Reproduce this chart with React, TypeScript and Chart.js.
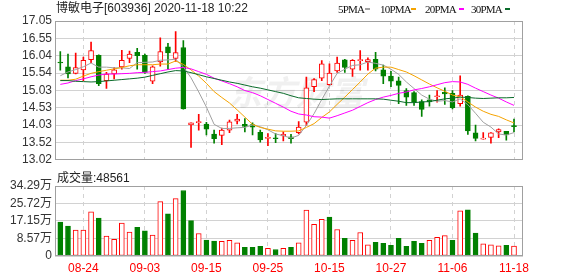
import React, { useEffect, useRef } from 'react';
import { Chart, registerables } from 'chart.js';

Chart.register(...registerables);

const stockTitle = '博敏电子[603936] 2020-11-18 10:22';
const volumeTitle = '成交量:48561';
const watermarkText = '东方财富';

const dates = ['08-19','08-20','08-21','08-24','08-25','08-26','08-27','08-28','08-31','09-01','09-02','09-03','09-04','09-07','09-08','09-09','09-10','09-11','09-14','09-15','09-16','09-17','09-18','09-21','09-22','09-23','09-24','09-25','09-28','09-29','09-30','10-09','10-12','10-13','10-14','10-15','10-16','10-19','10-20','10-21','10-22','10-23','10-26','10-27','10-28','10-29','10-30','11-02','11-03','11-04','11-05','11-06','11-09','11-10','11-11','11-12','11-13','11-16','11-17','11-18'];

const opens = [15.85,15.72,15.53,15.63,15.93,16.05,15.32,15.51,15.72,15.96,16.14,16.05,15.30,15.86,16.30,15.96,16.28,14.04,14.10,14.06,13.77,13.73,13.88,14.14,14.05,14.04,13.82,13.64,13.64,13.71,13.69,13.81,14.11,15.14,15.39,15.20,15.60,15.92,15.65,15.90,15.87,15.94,15.63,15.45,15.31,15.03,14.97,14.71,14.76,14.85,14.98,14.95,14.65,14.86,13.80,13.62,13.67,13.83,13.85,14.01];
const highs = [16.16,16.09,16.12,16.00,16.44,16.07,15.56,15.70,16.20,16.18,16.26,16.09,15.75,16.56,16.40,16.74,16.48,14.09,14.34,14.11,13.88,13.94,14.17,14.34,14.22,14.09,13.88,13.78,13.78,13.83,13.76,14.13,15.42,15.38,15.90,15.81,16.00,15.94,15.93,16.19,15.98,16.14,15.77,15.59,15.42,15.09,15.00,14.76,14.90,15.03,15.11,15.03,15.46,14.88,14.03,13.81,13.81,13.92,13.85,14.20];
const lows = [15.62,15.40,15.51,15.32,15.84,15.17,15.09,15.37,15.65,15.84,15.65,15.53,15.23,15.74,15.65,15.88,14.49,13.38,13.88,13.74,13.50,13.46,13.81,14.06,13.83,13.74,13.53,13.43,13.52,13.57,13.50,13.77,14.02,15.00,15.32,15.18,15.56,15.56,15.44,15.62,15.62,15.60,15.23,15.14,14.65,14.60,14.60,14.28,14.58,14.69,14.63,14.50,14.58,13.76,13.57,13.62,13.50,13.66,13.59,13.83];
const closes = [15.83,15.51,15.70,15.91,16.19,15.23,15.51,15.63,15.91,16.09,16.04,15.56,15.72,16.16,16.12,16.13,14.50,14.09,14.12,13.91,13.63,13.88,14.12,14.20,13.99,13.97,13.60,13.65,13.63,13.76,13.63,13.97,15.11,15.35,15.81,15.54,15.83,15.70,15.91,15.92,15.93,15.65,15.45,15.30,15.18,14.84,14.69,14.48,14.70,14.88,14.93,14.53,14.90,13.86,13.64,13.65,13.80,13.90,13.74,13.98];
const prevClose = 15.95;

const ma5 = [15.46,15.57,15.64,15.72,15.83,15.71,15.71,15.69,15.69,15.67,15.84,15.85,15.86,15.91,15.92,15.94,15.72,15.40,14.99,14.55,14.05,13.93,13.93,13.95,13.96,14.03,13.98,13.89,13.77,13.72,13.65,13.73,14.02,14.36,14.77,15.16,15.53,15.65,15.76,15.78,15.86,15.82,15.77,15.65,15.50,15.28,15.09,14.90,14.78,14.72,14.74,14.70,14.79,14.62,14.37,14.11,13.97,13.77,13.74,13.81];
const ma10 = [15.33,15.33,15.36,15.45,15.53,15.58,15.62,15.66,15.70,15.75,15.78,15.78,15.78,15.80,15.80,15.89,15.79,15.63,15.45,15.24,15.00,14.83,14.67,14.47,14.26,14.05,13.96,13.91,13.86,13.85,13.85,13.86,13.96,14.07,14.25,14.41,14.63,14.84,15.06,15.28,15.51,15.68,15.71,15.71,15.64,15.57,15.46,15.34,15.22,15.11,15.01,14.90,14.85,14.70,14.55,14.43,14.34,14.28,14.18,14.09];
const ma20 = [15.21,15.25,15.32,15.37,15.43,15.48,15.51,15.51,15.52,15.53,15.55,15.56,15.58,15.60,15.64,15.68,15.70,15.66,15.58,15.50,15.39,15.31,15.23,15.14,15.03,14.97,14.88,14.77,14.66,14.55,14.43,14.35,14.32,14.27,14.26,14.23,14.30,14.38,14.46,14.57,14.68,14.77,14.84,14.89,14.95,14.99,15.05,15.09,15.14,15.20,15.26,15.29,15.28,15.21,15.10,15.00,14.90,14.81,14.70,14.60];
const ma30 = [15.32,15.32,15.30,15.29,15.28,15.29,15.31,15.33,15.35,15.37,15.39,15.42,15.47,15.52,15.57,15.61,15.60,15.55,15.49,15.43,15.38,15.33,15.28,15.24,15.19,15.14,15.10,15.05,15.00,14.95,14.88,14.82,14.80,14.78,14.77,14.78,14.79,14.79,14.79,14.79,14.79,14.79,14.78,14.75,14.72,14.68,14.68,14.70,14.71,14.75,14.79,14.81,14.84,14.83,14.81,14.80,14.81,14.82,14.82,14.83];

// volume in 万
const volumes = [16.6,14.6,12.7,12.7,21.6,18.6,9.7,8.2,16.1,11.7,14.1,12.3,10.2,26.6,20.6,28.1,32.1,17.3,11.0,7.8,7.3,7.2,7.7,6.5,4.2,4.2,4.7,3.7,3.2,3.7,4.2,6.5,22.5,15.5,18.0,19.1,13.0,8.7,7.7,11.5,5.5,6.7,6.2,5.2,8.7,4.7,7.2,6.2,7.7,9.2,10.0,7.7,22.1,22.6,11.2,6.0,5.5,5.0,5.2,4.8561];

const xTickLabels = ['08-24','09-03','09-15','09-25','10-15','10-27','11-06','11-18'];
const priceTicks = [13.02, 13.52, 14.03, 14.53, 15.03, 15.54, 16.04, 16.55, 17.05];
const volTickValues = [0, 8.57, 17.15, 25.72, 34.29];
const volTickLabels = ['0', '8.57万', '17.15万', '25.72万', '34.29万'];
const maNames = ['5PMA', '10PMA', '20PMA', '30PMA'];

const UP = '#ff0000';
const DOWN = '#008000';
const MA_COLORS = ['#a0a0a0', '#f5a300', '#ff00ff', '#0a6b2a'];
const GRID = '#d2d2d2';
const FRAME = '#a0a0a0';
const FONT = '"Liberation Sans", Arial, "Noto Sans CJK SC", sans-serif';
const X_MIN = -0.69;
const X_MAX = 60.17;

const tickIdx = xTickLabels.map((l) => dates.indexOf(l));

const framePlugin = {
  id: 'frame',
  afterDraw(chart: any) {
    const { ctx, chartArea } = chart;
    const l = Math.round(chartArea.left);
    const t = Math.round(chartArea.top);
    const r = Math.round(chartArea.right);
    const b = Math.round(chartArea.bottom);
    ctx.save();
    ctx.strokeStyle = FRAME;
    ctx.lineWidth = 1;
    ctx.strokeRect(l + 0.5, t + 0.5, r - l - 1, b - t - 1);
    ctx.restore();
  },
};

const watermarkPlugin = {
  id: 'watermark',
  beforeDatasetsDraw(chart: any) {
    const { ctx, chartArea } = chart;
    ctx.save();
    ctx.fillStyle = 'rgba(0,0,0,0.06)';
    ctx.font = 'italic bold 34px "Noto Sans CJK SC", sans-serif';
    ctx.textBaseline = 'alphabetic';
    ctx.fillText(watermarkText, chartArea.left + 173, chartArea.top + 84);
    ctx.restore();
  },
};

const xGridScale = (extra: any) => ({
  type: 'linear',
  min: X_MIN,
  max: X_MAX,
  offset: false,
  bounds: 'data',
  afterBuildTicks: (s: any) => {
    s.ticks = tickIdx.map((v) => ({ value: v }));
  },
  grid: { color: GRID, drawTicks: false, lineWidth: 1, offset: false },
  border: { display: false, dash: [4, 4] },
  ...extra,
});

export default function App() {
  const priceRef = useRef<HTMLCanvasElement>(null);
  const volRef = useRef<HTMLCanvasElement>(null);

  useEffect(() => {
    const candleUp = dates.map((_, i) => closes[i] >= opens[i]);
    const volUp = dates.map((_, i) => closes[i] >= (i === 0 ? prevClose : closes[i - 1]));
    const mas = [ma5, ma10, ma20, ma30];

    const price = new Chart(priceRef.current as HTMLCanvasElement, {
      type: 'bar',
      data: {
        datasets: [
          ...mas.map((arr, k) => ({
            type: 'line' as const,
            label: maNames[k],
            data: arr.map((y, i) => ({ x: i, y })),
            borderColor: MA_COLORS[k],
            borderWidth: 1,
            pointRadius: 0,
            tension: 0,
            order: 3 - k,
          })),
          {
            type: 'bar' as const,
            label: 'body',
            data: dates.map((_, i) => ({ x: i, y: [opens[i], closes[i]] })),
            backgroundColor: candleUp.map((u) => (u ? '#ffffff' : DOWN)),
            borderColor: candleUp.map((u) => (u ? UP : DOWN)),
            borderWidth: 1,
            borderSkipped: false,
            barThickness: 5,
            minBarLength: 1,
            grouped: false,
            order: 10,
          },
          {
            type: 'bar' as const,
            label: 'wick',
            data: dates.map((_, i) => ({ x: i, y: [lows[i], highs[i]] })),
            backgroundColor: candleUp.map((u) => (u ? UP : DOWN)),
            borderWidth: 0,
            barThickness: 1,
            grouped: false,
            order: 11,
          },
        ] as any,
      },
      options: {
        responsive: false,
        animation: false,
        events: [],
        layout: { padding: { left: 0, right: 55, top: 21, bottom: 5 } },
        plugins: { legend: { display: false }, tooltip: { enabled: false } },
        scales: {
          x: xGridScale({
            ticks: { display: false },
            afterFit: (s: any) => {
              s.height = 0;
            },
          }),
          y: {
            min: 13.02,
            max: 17.05,
            afterBuildTicks: (s: any) => {
              s.ticks = priceTicks.map((v) => ({ value: v }));
            },
            afterFit: (s: any) => {
              s.width = 55;
            },
            ticks: {
              color: '#333',
              font: { family: FONT, size: 12 },
              padding: 3,
              autoSkip: false,
              callback: (v: any) => Number(v).toFixed(2),
            },
            grid: { color: GRID, drawTicks: false },
            border: { display: false },
          },
        } as any,
      },
      plugins: [watermarkPlugin, framePlugin],
    });

    const vol = new Chart(volRef.current as HTMLCanvasElement, {
      type: 'bar',
      data: {
        datasets: [
          {
            label: 'volume',
            data: volumes.map((y, i) => ({ x: i, y })),
            backgroundColor: volUp.map((u) => (u ? '#ffffff' : DOWN)),
            borderColor: volUp.map((u) => (u ? UP : DOWN)),
            borderWidth: 1,
            borderSkipped: false,
            barThickness: 5,
            grouped: false,
          },
        ] as any,
      },
      options: {
        responsive: false,
        animation: false,
        events: [],
        layout: { padding: { left: 0, right: 55, top: 16, bottom: 0 } },
        plugins: { legend: { display: false }, tooltip: { enabled: false } },
        scales: {
          x: xGridScale({
            afterFit: (s: any) => {
              s.height = 20;
            },
            ticks: {
              color: '#ff0000',
              font: { family: FONT, size: 12 },
              padding: 5,
              autoSkip: false,
              maxRotation: 0,
              callback: (v: any) => dates[Math.round(Number(v))],
            },
          }),
          y: {
            min: 0,
            max: 34.29,
            afterBuildTicks: (s: any) => {
              s.ticks = volTickValues.map((v) => ({ value: v }));
            },
            afterFit: (s: any) => {
              s.width = 55;
            },
            ticks: {
              color: '#333',
              font: { family: FONT, size: 12 },
              padding: 3,
              autoSkip: false,
              callback: (v: any) => volTickLabels[volTickValues.indexOf(Number(v))],
            },
            grid: { color: GRID, drawTicks: false },
            border: { display: false },
          },
        } as any,
      },
      plugins: [framePlugin],
    });

    return () => {
      price.destroy();
      vol.destroy();
    };
  }, []);

  const legendTextX = [338, 380, 425, 471];
  const legendDashX = [365, 411, 459, 505];

  return (
    <div
      style={{
        position: 'fixed',
        left: 0,
        top: 0,
        width: 578,
        height: 276,
        background: '#fff',
        overflow: 'hidden',
      }}
    >
      <canvas ref={priceRef} width={578} height={170} style={{ position: 'absolute', left: 0, top: 0 }} />
      <canvas ref={volRef} width={578} height={106} style={{ position: 'absolute', left: 0, top: 170 }} />
      <div
        style={{
          position: 'absolute',
          left: 56,
          top: 2,
          fontFamily: FONT,
          fontSize: 12,
          lineHeight: '13px',
          color: '#222',
          whiteSpace: 'nowrap',
        }}
      >
        {stockTitle}
      </div>
      {maNames.map((name, k) => (
        <React.Fragment key={name}>
          <div
            style={{
              position: 'absolute',
              left: legendTextX[k],
              top: 3,
              fontFamily: '"Liberation Serif", "Times New Roman", serif',
              fontSize: 11,
              letterSpacing: '-0.8px',
              lineHeight: '12px',
              color: '#111',
              whiteSpace: 'nowrap',
            }}
          >
            {name}
          </div>
          <div
            style={{
              position: 'absolute',
              left: legendDashX[k],
              top: 8,
              width: 5,
              height: 2,
              background: MA_COLORS[k],
            }}
          />
        </React.Fragment>
      ))}
      <div
        style={{
          position: 'absolute',
          left: 57,
          top: 171,
          fontFamily: FONT,
          fontSize: 12,
          lineHeight: '14px',
          color: '#222',
          whiteSpace: 'nowrap',
        }}
      >
        {volumeTitle}
      </div>
    </div>
  );
}
